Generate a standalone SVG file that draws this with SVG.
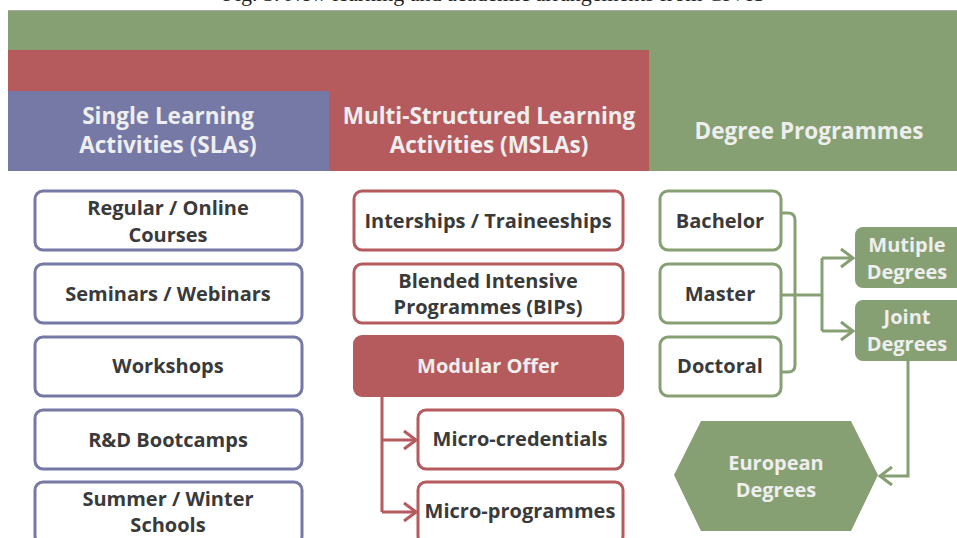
<svg xmlns="http://www.w3.org/2000/svg" width="957" height="538" viewBox="0 0 957 538">
<style>
.hdr{font-family:"Open Sans","Liberation Sans",sans-serif;font-weight:700;font-size:22.5px;fill:#EEEEEE;text-anchor:middle}
.lbl{font-family:"Open Sans","Liberation Sans",sans-serif;font-weight:700;font-size:20px;fill:#3A3A3A;text-anchor:middle}
.wl{font-family:"Open Sans","Liberation Sans",sans-serif;font-weight:700;font-size:20px;fill:#EEEEEE;text-anchor:middle}
.sla{fill:#FFFFFF;stroke:#7679A6;stroke-width:3}
.msla{fill:#FFFFFF;stroke:#B55B5E;stroke-width:3}
.deg{fill:#FFFFFF;stroke:#87A073;stroke-width:3}
.rc{fill:none;stroke:#B55B5E;stroke-width:3}
.gc{fill:none;stroke:#87A073;stroke-width:3}
</style>
<defs>
<marker id="ar" viewBox="0 0 16 22" refX="14" refY="11" markerWidth="16" markerHeight="22" orient="auto" markerUnits="userSpaceOnUse">
<path d="M2,2 L14,11 L2,20" fill="none" stroke="#B55B5E" stroke-width="3"/>
</marker>
<marker id="ag" viewBox="0 0 16 22" refX="14" refY="11" markerWidth="16" markerHeight="22" orient="auto" markerUnits="userSpaceOnUse">
<path d="M2,2 L14,11 L2,20" fill="none" stroke="#87A073" stroke-width="3"/>
</marker>
</defs>
<rect width="957" height="538" fill="#FFFFFF"/>
<text x="494" y="0.5" font-family="Liberation Serif, serif" font-size="22" text-anchor="middle" fill="#222">Fig. 3. New learning and academic arrangements from CIVIS</text>
<g id="bands">
<rect x="8" y="10" width="949" height="161" fill="#87A073"/>
<line x1="8" y1="10.5" x2="957" y2="10.5" stroke="#A8A8A8" stroke-width="1"/>
<rect x="8" y="50" width="641" height="121" fill="#B55B5E"/>
<rect x="8" y="91" width="321" height="80" fill="#7679A6"/>
<text class="hdr" x="168" y="124">Single Learning</text>
<text class="hdr" x="168" y="153">Activities (SLAs)</text>
<text class="hdr" x="489" y="124">Multi-Structured Learning</text>
<text class="hdr" x="489" y="153">Activities (MSLAs)</text>
<text class="hdr" x="809" y="139">Degree Programmes</text>
</g>
<g id="connectors">
<path class="rc" d="M382,397 V512"/>
<path class="rc" d="M382,440 H416" marker-end="url(#ar)"/>
<path class="rc" d="M382,512 H416" marker-end="url(#ar)"/>
<path class="gc" d="M781,213 H788 Q795,213 795,220 V365 Q795,372 788,372 H781"/>
<path class="gc" d="M781,295 H822"/>
<path class="gc" d="M822,258 V331"/>
<path class="gc" d="M822,258 H853" marker-end="url(#ag)"/>
<path class="gc" d="M822,331 H853" marker-end="url(#ag)"/>
<path class="gc" d="M908,361 V476 H880" marker-end="url(#ag)"/>
</g>
<g id="sla-regular"><rect class="sla" x="35" y="191" width="267" height="59" rx="8"/><text class="lbl" x="168" y="215">Regular / Online</text><text class="lbl" x="168" y="242">Courses</text></g>
<g id="sla-seminars"><rect class="sla" x="35" y="264" width="267" height="59" rx="8"/><text class="lbl" x="168" y="301">Seminars / Webinars</text></g>
<g id="sla-workshops"><rect class="sla" x="35" y="337" width="267" height="59" rx="8"/><text class="lbl" x="168" y="373">Workshops</text></g>
<g id="sla-bootcamps"><rect class="sla" x="35" y="410" width="267" height="59" rx="8"/><text class="lbl" x="168" y="447">R&amp;D Bootcamps</text></g>
<g id="sla-schools"><rect class="sla" x="35" y="482" width="267" height="62" rx="8"/><text class="lbl" x="168" y="506">Summer / Winter</text><text class="lbl" x="168" y="532">Schools</text></g>
<g id="msla-interships"><rect class="msla" x="354" y="191" width="269" height="59" rx="8"/><text class="lbl" x="488" y="228">Interships / Traineeships</text></g>
<g id="msla-bips"><rect class="msla" x="354" y="264" width="269" height="59" rx="8"/><text class="lbl" x="488" y="288">Blended Intensive</text><text class="lbl" x="488" y="314">Programmes (BIPs)</text></g>
<g id="msla-modular"><rect x="353" y="335" width="271" height="62" rx="9" fill="#B55B5E"/><text class="wl" x="488" y="373">Modular Offer</text></g>
<g id="msla-microcred"><rect class="msla" x="418" y="410" width="205" height="59" rx="8"/><text class="lbl" x="520" y="446">Micro-credentials</text></g>
<g id="msla-microprog"><rect class="msla" x="418" y="482" width="205" height="62" rx="8"/><text class="lbl" x="520" y="518">Micro-programmes</text></g>
<g id="deg-bachelor"><rect class="deg" x="660" y="191" width="121" height="59" rx="8"/><text class="lbl" x="720" y="228">Bachelor</text></g>
<g id="deg-master"><rect class="deg" x="660" y="264" width="121" height="59" rx="8"/><text class="lbl" x="720" y="301">Master</text></g>
<g id="deg-doctoral"><rect class="deg" x="660" y="337" width="121" height="59" rx="8"/><text class="lbl" x="720" y="373">Doctoral</text></g>
<g id="deg-multiple"><rect x="855" y="227" width="110" height="61" rx="8" fill="#87A073"/><text class="wl" x="907" y="252">Mutiple</text><text class="wl" x="907" y="279">Degrees</text></g>
<g id="deg-joint"><rect x="855" y="300" width="110" height="61" rx="8" fill="#87A073"/><text class="wl" x="907" y="324">Joint</text><text class="wl" x="907" y="351">Degrees</text></g>
<g id="deg-european"><polygon points="674,475 701,421 851,421 878,475 851,531 701,531" fill="#87A073"/><text class="wl" x="776" y="470">European</text><text class="wl" x="776" y="497">Degrees</text></g>
</svg>
